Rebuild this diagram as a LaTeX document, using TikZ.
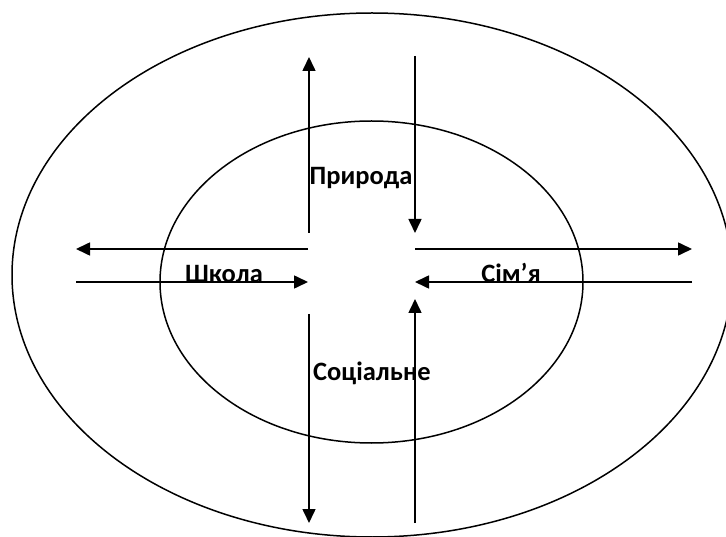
\documentclass[tikz,border=0pt]{standalone}
\usepackage{fontspec}
\setmainfont{Carlito}
\usetikzlibrary{arrows.meta}
\tikzset{
  ring/.style={draw=black, line width=1.5pt},
  flow/.style={draw=black, line width=1.6pt, -{Triangle[length=14pt,width=13pt]}},
  lbl/.style={font=\bfseries\fontsize{26.5}{30}\selectfont, inner sep=0pt, anchor=base}
}
\begin{document}
\begin{tikzpicture}[x=1pt,y=-1pt]
\useasboundingbox (0,0) rectangle (726,537);
\clip (0,0) rectangle (726,537);
\fill[white] (0,0) rectangle (726,537);
% rings
\draw[ring] (372,275) ellipse [x radius=360, y radius=262];
\draw[ring] (371.5,282) ellipse [x radius=211.5, y radius=161];
% coordinates
\coordinate (upS) at (309,233);
\coordinate (upE) at (309,57);
\coordinate (dnS) at (415,56);
\coordinate (dnE) at (415,233);
\coordinate (ldS) at (309,314);
\coordinate (ldE) at (309,523);
\coordinate (ruS) at (415,523);
\coordinate (ruE) at (415,299);
\coordinate (lwS) at (308,249);
\coordinate (lwE) at (76,249);
\coordinate (liS) at (76,282);
\coordinate (liE) at (308,282);
\coordinate (reS) at (415,249);
\coordinate (reE) at (692,249);
\coordinate (riS) at (692,282);
\coordinate (riE) at (415,282);
% arrows
\draw[flow] (upS) -- (upE);
\draw[flow] (dnS) -- (dnE);
\draw[flow] (ldS) -- (ldE);
\draw[flow] (ruS) -- (ruE);
\draw[flow] (lwS) -- (lwE);
\draw[flow] (liS) -- (liE);
\draw[flow] (reS) -- (reE);
\draw[flow] (riS) -- (riE);
% labels
\node[lbl] (pryroda) at (361,185) {Природа};
\node[lbl] (sotsialne) at (372,381) {Соціальне};
\node[lbl] (shkola) at (224,283) {Школа};
\node[lbl] (simia) at (511,283) {Сім’я};
\end{tikzpicture}
\end{document}
